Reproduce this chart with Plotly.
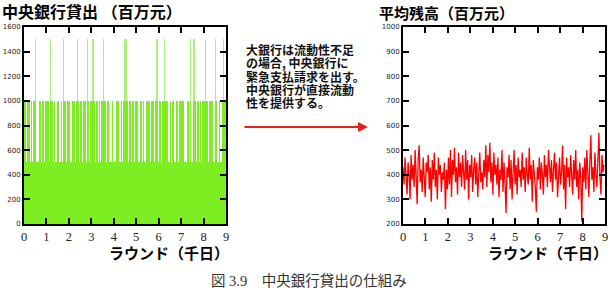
import plotly.graph_objects as go

# ---------------- data ----------------
# Left: central bank lending (million yuan), bars every 0.05 thousand days
loan_days = [round(0.025 + 0.05 * i, 3) for i in range(180)]
loan_values = [
    1000, 1000, 500, 1000, 1000, 500, 1000, 500, 1000, 1000, 1500, 500, 500, 1000, 1000, 500, 1000, 1000, 500, 1000,
    1000, 1000, 500, 1500, 1000, 1000, 500, 1000, 500, 1000, 1000, 500, 500, 1000, 500, 1500, 1000, 500, 1000, 1000,
    1000, 500, 500, 1000, 1000, 500, 1000, 1500, 1000, 500, 1000, 1000, 500, 1000, 1000, 500, 1500, 1000, 500, 1000,
    1000, 1500, 1000, 500, 1000, 1000, 500, 1000, 500, 1000, 1500, 1000, 1000, 500, 1000, 1000, 500, 500, 1000, 500,
    500, 500, 1000, 1000, 1000, 500, 1000, 500, 1000, 1500, 1500, 1500, 1000, 500, 1000, 500, 1000, 1000, 500, 1000,
    1000, 1000, 500, 1000, 1000, 500, 1000, 500, 500, 1000, 1000, 1000, 500, 1000, 1000, 1000, 500, 1000, 1500, 500,
    1000, 1000, 500, 1000, 1000, 1500, 1000, 1000, 500, 500, 1000, 500, 1000, 1000, 500, 1000, 1000, 500, 1000, 1000,
    1000, 1000, 1000, 500, 500, 1000, 1000, 500, 1500, 500, 500, 1500, 1000, 500, 1000, 1000, 500, 1000, 500, 1000,
    1000, 1500, 1000, 1000, 500, 1000, 1000, 1000, 500, 500, 1500, 1000, 500, 500, 1000, 500, 1000, 1500, 1000, 1000,
]

# Right: average balance (million yuan), one value every 0.045 thousand days
bal_days = [round(0.045 * i, 3) for i in range(200)]
bal_values = [
    430, 360, 470, 390, 320, 450, 410, 300, 480, 380, 440, 350, 500, 400, 280, 460, 520, 370, 420, 330,
    470, 390, 310, 450, 410, 480, 340, 430, 290, 460, 380, 490, 350, 420, 300, 470, 400, 440, 330, 410,
    380, 450, 260, 420, 340, 470, 360, 500, 310, 460, 400, 510, 370, 430, 320, 490, 390, 450, 350, 480,
    410, 340, 500, 380, 460, 300, 440, 390, 480, 330, 420, 470, 360, 450, 310, 430, 490, 370, 410, 340,
    460, 390, 520, 350, 480, 410, 530, 370, 450, 320, 490, 400, 440, 360, 470, 310, 420, 380, 500, 330,
    450, 370, 245, 430, 390, 480, 340, 460, 300, 410, 500, 360, 440, 320, 470, 390, 420, 350, 490, 380,
    430, 330, 470, 400, 360, 510, 380, 440, 290, 460, 410, 350, 250, 430, 380, 470, 340, 450, 400, 320,
    480, 390, 440, 350, 500, 410, 370, 460, 330, 420, 490, 380, 450, 310, 430, 470, 360, 410, 520, 340,
    440, 260, 470, 390, 430, 350, 480, 400, 320, 460, 380, 500, 350, 420, 300, 450, 390, 210, 430, 370,
    470, 340, 500, 410, 310, 450, 560, 380, 430, 330, 490, 400, 350, 460, 570, 390, 320, 480, 410, 440,
]

x_ticks = [0, 1, 2, 3, 4, 5, 6, 7, 8, 9]
left_title = "中央銀行貸出 （百万元）"
right_title = "平均残高（百万元）"
x_title = "ラウンド（千日）"
note_lines = ["大銀行は流動性不足", "の場合, 中央銀行に", "緊急支払請求を出す。", "中央銀行が直接流動", "性を提供する。"]
caption = "図 3.9　中央銀行貸出の仕組み"

# ---------------- figure ----------------
W, H = 610, 296
def px(x):
    return x / W
def py(y):
    return 1 - y / H

GREEN = "rgba(122,238,30,0.99)"
LIGHT_GREEN = "rgba(170,240,120,0.99)"

spike_x = [d for d, v in zip(loan_days, loan_values) if v > 1000]
spike_y = [v for v in loan_values if v > 1000]
core_y = [min(v, 1000) for v in loan_values]

fig = go.Figure()
fig.add_trace(go.Bar(x=spike_x, y=spike_y, width=0.05, marker=dict(color=LIGHT_GREEN, line=dict(width=0)),
                     xaxis="x", yaxis="y", showlegend=False))
fig.add_trace(go.Bar(x=loan_days, y=core_y, width=0.05, marker=dict(color=GREEN, line=dict(width=0)),
                     xaxis="x", yaxis="y", showlegend=False))
fig.add_trace(go.Scatter(x=bal_days, y=bal_values, mode="lines", line=dict(color="#ff0000", width=1.3),
                         xaxis="x2", yaxis="y2", showlegend=False))

tickfont_y = dict(family="DejaVu Sans", size=7, color="#222222")
tickfont_x = dict(family="Liberation Serif", size=12.5, color="#222222")
common_axis = dict(showline=True, linecolor="black", linewidth=2, mirror="ticks", ticks="inside",
                   ticklen=6, tickwidth=1.5, tickcolor="black", showgrid=False, zeroline=False)

fig.update_layout(
    width=W, height=H, margin=dict(l=0, r=0, t=0, b=0),
    template="none", paper_bgcolor="white", plot_bgcolor="white",
    barmode="overlay", bargap=0, bargroupgap=0,
    xaxis=dict(domain=[px(24), px(226)], range=[0, 9], tickvals=x_ticks, tickfont=tickfont_x,
               anchor="y", **common_axis),
    yaxis=dict(domain=[py(224), py(27)], range=[0, 1600], dtick=200, tickfont=tickfont_y,
               anchor="x", **common_axis),
    xaxis2=dict(domain=[px(403), px(605)], range=[0, 9], tickvals=x_ticks, tickfont=tickfont_x,
                anchor="y2", **common_axis),
    yaxis2=dict(domain=[py(224), py(27)], range=[200, 1000], dtick=100, tickfont=tickfont_y,
                anchor="x2", **common_axis),
)

cjk = "Noto Sans CJK JP"
ann = []
ann.append(dict(text="<b>" + left_title + "</b>", x=px(0), y=py(11), xanchor="left", yanchor="middle",
                font=dict(family=cjk, size=16, color="black")))
ann.append(dict(text="<b>" + right_title + "</b>", x=px(377), y=py(12), xanchor="left", yanchor="middle",
                font=dict(family=cjk, size=15, color="black")))
ann.append(dict(text="<b>" + x_title + "</b>", x=px(231), y=py(252), xanchor="right", yanchor="middle",
                font=dict(family=cjk, size=15, color="black")))
ann.append(dict(text="<b>" + x_title + "</b>", x=px(610), y=py(252), xanchor="right", yanchor="middle",
                font=dict(family=cjk, size=15, color="black")))
# note block: base size sets the line spacing (1.3 em), spans set glyph size
note_text = "<br>".join('<span style="font-size:12px"><b>' + ln + "</b></span>" for ln in note_lines)
ann.append(dict(text=note_text, x=px(244), y=py(75.5), xanchor="left", yanchor="middle", align="left",
                font=dict(family=cjk, size=10.25, color="#111111")))
ann.append(dict(text=caption, x=px(309), y=py(281), xanchor="center", yanchor="middle",
                font=dict(family="Liberation Serif, " + cjk, size=14.5, color="#333333")))
for a in ann:
    a.update(xref="paper", yref="paper", showarrow=False)
fig.update_layout(annotations=ann)
fig.add_annotation(x=px(368), y=py(127), xref="paper", yref="paper", text="", showarrow=True,
                   ax=-125, ay=0, arrowhead=2, arrowsize=1, arrowwidth=2, arrowcolor="#e8201c")

fig.write_html("out.html")
